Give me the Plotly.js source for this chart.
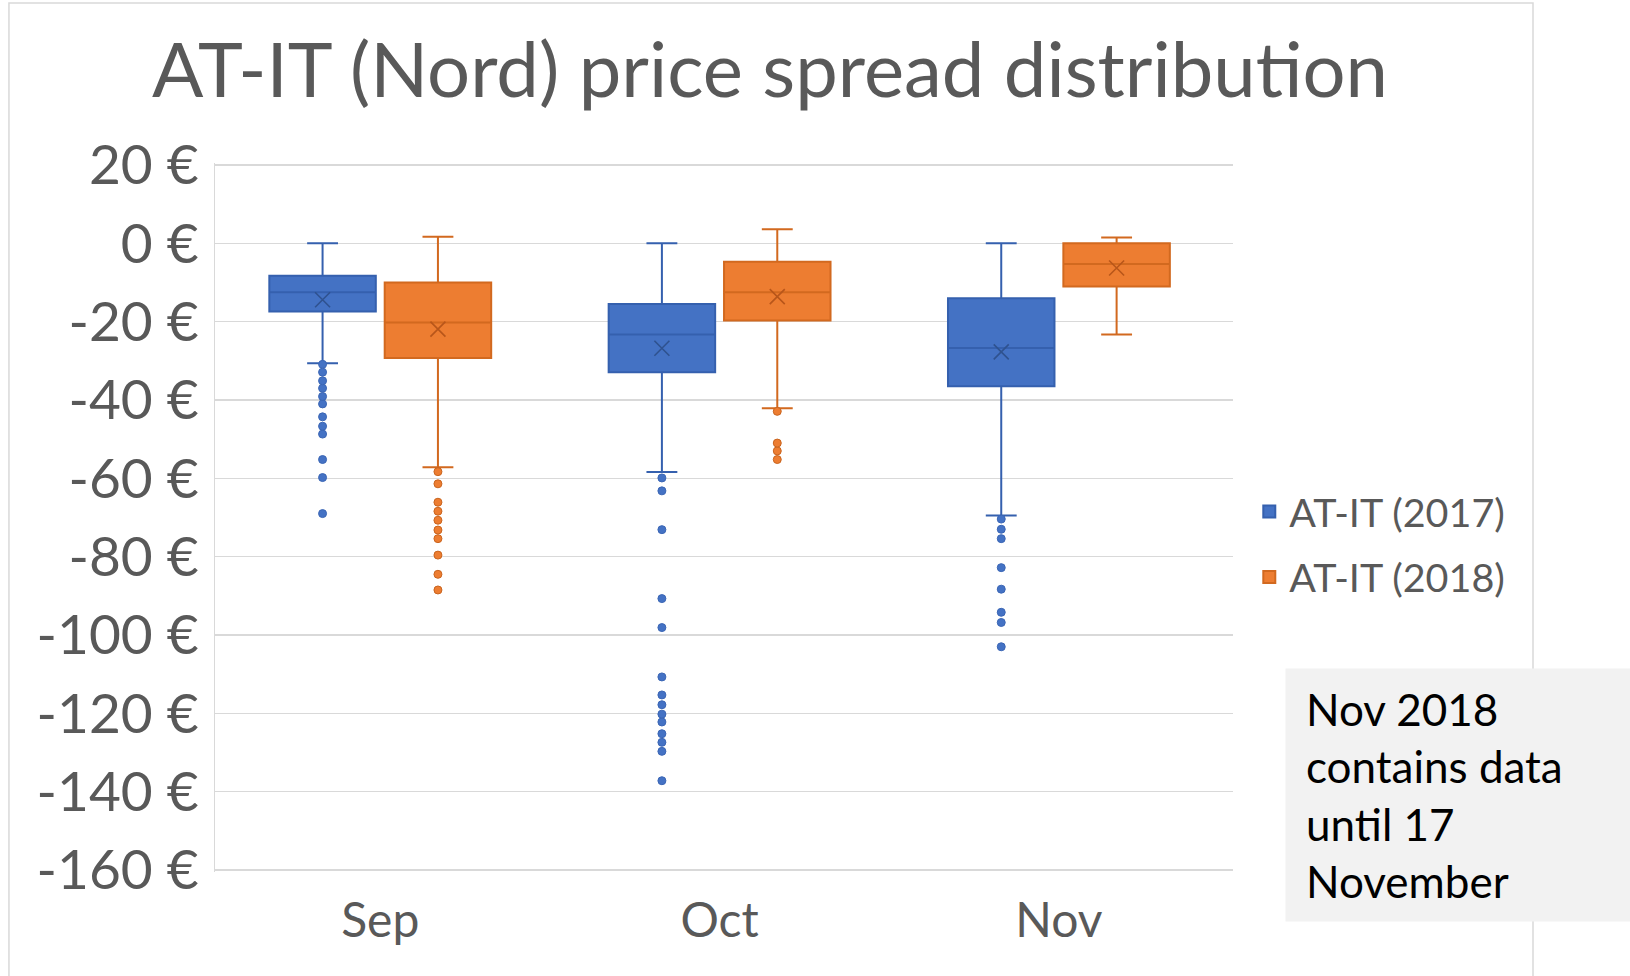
<!DOCTYPE html>
<html>
<head>
<meta charset="utf-8">
<script src="https://cdn.plot.ly/plotly-3.0.1.min.js"></script>
<style>html,body{margin:0;padding:0;background:#fff;}#chart{width:1630px;height:976px;}</style>
</head>
<body>
<div id="chart"></div>
<script>
// ---- Data ----
const months = ['Sep', 'Oct', 'Nov'];
const seriesNames = ['AT-IT (2017)', 'AT-IT (2018)'];

// AT-IT (2017)
const q1_2017 = [-17.4, -32.9, -36.5];
const median_2017 = [-12.5, -23.3, -26.7];
const q3_2017 = [-8.3, -15.5, -14.0];
const lowerWhisker_2017 = [-30.6, -58.4, -69.5];
const upperWhisker_2017 = [0, 0, 0];
const mean_2017 = [-14.4, -26.8, -27.7];

// AT-IT (2018)
const q1_2018 = [-29.3, -19.7, -11.0];
const median_2018 = [-20.2, -12.5, -5.3];
const q3_2018 = [-10.0, -4.7, 0.0];
const lowerWhisker_2018 = [-57.2, -42.1, -23.3];
const upperWhisker_2018 = [1.7, 3.6, 1.5];
const mean_2018 = [-21.9, -13.6, -6.3];

// Outliers per month
const sepOutliers_2017 = [-30.9, -32.9, -35.1, -37.0, -39.1, -41.0, -44.3, -46.7, -48.7, -55.2, -59.8, -69.0];
const octOutliers_2017 = [-59.9, -63.2, -73.1, -90.7, -98.1, -110.7, -115.3, -117.8, -120.2, -122.2, -125.2, -127.4, -129.7, -137.2];
const novOutliers_2017 = [-70.4, -73.0, -75.4, -82.8, -88.3, -94.2, -96.8, -103.0];
const sepOutliers_2018 = [-58.3, -61.4, -66.1, -68.4, -70.7, -73.2, -75.4, -79.6, -84.5, -88.5];
const octOutliers_2018 = [-42.9, -51.0, -53.0, -55.2];
const novOutliers_2018 = [];

// Axis ticks
const yTickValues = [20, 0, -20, -40, -60, -80, -100, -120, -140, -160];
const yTickLabels = ['20 €', '0 €', '-20 €', '-40 €', '-60 €', '-80 €', '-100 €', '-120 €', '-140 €', '-160 €'];

const noteText = 'Nov 2018<br>contains data<br>until 17<br>November';

// ---- Helpers ----
function flatten(lists) {
  const xs = [], ys = [];
  lists.forEach((vals, i) => vals.forEach(v => { xs.push(months[i]); ys.push(v); }));
  return {x: xs, y: ys};
}

const styles = [
  {fill: '#4472c4', line: '#3560ae', mean: '#2f528f', dot: '#4472c4', dotLine: '#3b66b5'},
  {fill: '#ed7d31', line: '#d2691f', mean: '#b8561a', dot: '#ed7d31', dotLine: '#c9641e'}
];

const stats = [
  {q1: q1_2017, med: median_2017, q3: q3_2017, lo: lowerWhisker_2017, hi: upperWhisker_2017, mean: mean_2017,
   out: [sepOutliers_2017, octOutliers_2017, novOutliers_2017]},
  {q1: q1_2018, med: median_2018, q3: q3_2018, lo: lowerWhisker_2018, hi: upperWhisker_2018, mean: mean_2018,
   out: [sepOutliers_2018, octOutliers_2018, novOutliers_2018]}
];

const traces = [];
stats.forEach((s, i) => {
  const st = styles[i];
  const grp = 'g' + i;
  traces.push({
    type: 'box', name: seriesNames[i], x: months,
    q1: s.q1, median: s.med, q3: s.q3, lowerfence: s.lo, upperfence: s.hi,
    boxpoints: false, fillcolor: st.fill,
    line: {color: st.line, width: 2}, whiskerwidth: 0.29,
    offsetgroup: grp, alignmentgroup: 'all', legendgroup: grp,
    hoverinfo: 'skip'
  });
});
stats.forEach((s, i) => {
  const st = styles[i];
  const grp = 'g' + i;
  const o = flatten(s.out);
  traces.push({
    type: 'box', name: seriesNames[i] + ' outliers', x: o.x, y: o.y,
    boxpoints: 'all', jitter: 0, pointpos: 0,
    fillcolor: 'rgba(0,0,0,0)', line: {color: 'rgba(0,0,0,0)', width: 0},
    marker: {color: st.dot, size: 8, line: {color: st.dotLine, width: 1}},
    offsetgroup: grp, alignmentgroup: 'all', legendgroup: grp,
    showlegend: false, hoverinfo: 'skip'
  });
  traces.push({
    type: 'box', name: seriesNames[i] + ' mean', x: months, y: s.mean,
    boxpoints: 'all', jitter: 0, pointpos: 0,
    fillcolor: 'rgba(0,0,0,0)', line: {color: 'rgba(0,0,0,0)', width: 0},
    marker: {symbol: 'x-thin-open', color: st.mean, size: 15, line: {color: st.mean, width: 1.6}},
    offsetgroup: grp, alignmentgroup: 'all', legendgroup: grp,
    showlegend: false, hoverinfo: 'skip'
  });
});

const FONT = 'Lato, "Open Sans", sans-serif';

const layout = {
  width: 1630, height: 976,
  margin: {l: 215, r: 397, t: 163, b: 104, pad: 0},
  paper_bgcolor: '#ffffff', plot_bgcolor: '#ffffff',
  font: {family: FONT, color: '#595959'},
  title: {
    text: 'AT-IT (Nord) price spread distribution',
    font: {family: FONT, size: 76, color: '#595959'},
    xref: 'container', x: 0.4724, xanchor: 'center',
    yref: 'container', y: 0.928, yanchor: 'middle'
  },
  boxmode: 'group', boxgap: 0.32, boxgroupgap: 0.077,
  xaxis: {
    type: 'category', categoryorder: 'array', categoryarray: months,
    range: [-0.487, 2.513],
    showgrid: false, zeroline: false, showline: false, ticks: '',
    tickfont: {family: FONT, size: 48, color: '#595959'},
    ticklabelstandoff: 16, fixedrange: true
  },
  yaxis: {
    range: [-160.5, 20.5], tickmode: 'array', tickvals: yTickValues, ticktext: yTickLabels,
    showgrid: true, gridcolor: '#d9d9d9', gridwidth: 1.3,
    zeroline: false, showline: true, linecolor: '#d9d9d9', linewidth: 1.3, ticks: '',
    tickfont: {family: FONT, size: 55, color: '#595959'},
    ticklabelstandoff: 4, fixedrange: true
  },
  showlegend: true,
  legend: {
    x: 1.016, xanchor: 'left', y: 0.462, yanchor: 'middle',
    bgcolor: 'rgba(0,0,0,0)', traceorder: 'grouped', tracegroupgap: 11,
    font: {family: FONT, size: 39.5, color: '#595959'}
  },
  shapes: [{
    type: 'rect', xref: 'paper', yref: 'paper',
    x0: -0.2024, x1: 1.2947, y0: -0.2, y1: 1.2255,
    line: {color: '#d9d9d9', width: 1.5}, fillcolor: 'rgba(0,0,0,0)', layer: 'below'
  }],
  annotations: [{
    text: noteText, showarrow: false,
    xref: 'paper', x: 1.0511, xanchor: 'left',
    yref: 'paper', y: 0.1092, yanchor: 'middle',
    width: 325, height: 212, borderpad: 20, align: 'left', valign: 'middle',
    bgcolor: '#f2f2f2',
    font: {family: FONT, size: 44, color: '#000000'}
  }]
};

Plotly.newPlot('chart', traces, layout, {displayModeBar: false, staticPlot: true});
</script>
</body>
</html>
